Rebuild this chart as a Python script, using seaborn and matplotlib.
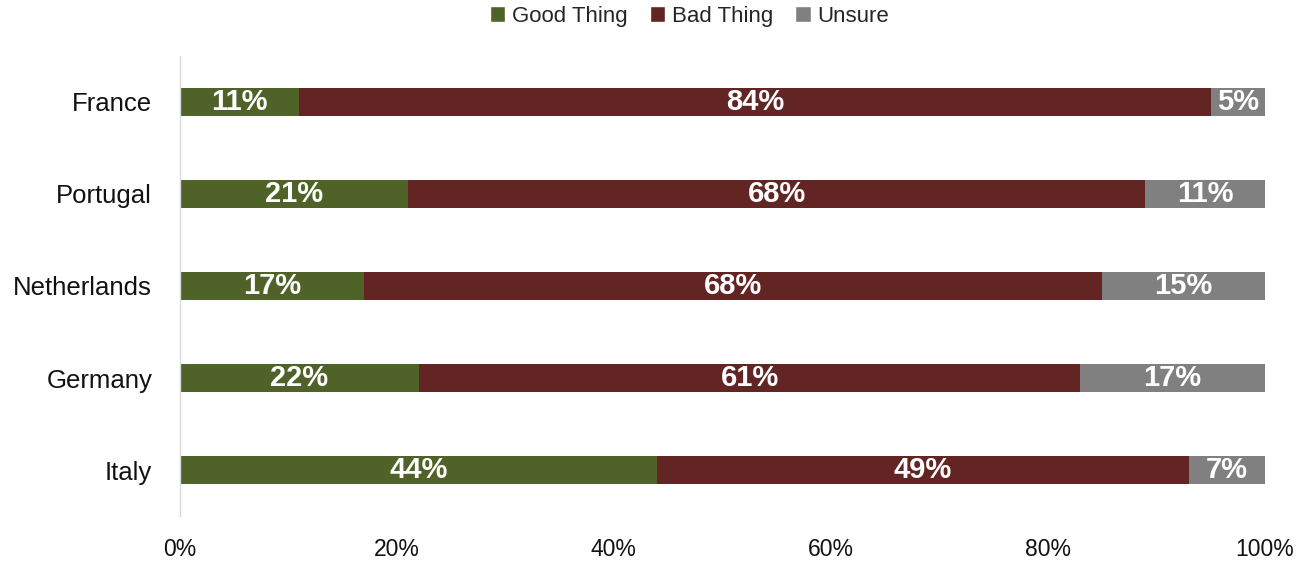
import numpy as np
import pandas as pd
import seaborn as sns
import matplotlib.pyplot as plt
from matplotlib.patches import Patch

countries = ["France", "Portugal", "Netherlands", "Germany", "Italy"]
good = [11, 21, 17, 22, 44]
bad = [84, 68, 68, 61, 49]
unsure = [5, 11, 15, 17, 7]

colors = {"Good Thing": "#4f6228", "Bad Thing": "#632523", "Unsure": "#808080"}

df = pd.DataFrame({"country": countries, "good": good, "bad": bad, "unsure": unsure})
df["good_bad"] = df["good"] + df["bad"]
df["total"] = df["good_bad"] + df["unsure"]

sns.set_theme(style="white")
plt.rcParams["font.family"] = ["Liberation Sans", "DejaVu Sans"]

fig = plt.figure(figsize=(12.96, 5.61), dpi=100)
ax = fig.add_axes([0.1389, 0.0802, 0.837, 0.82])

# stacked bars: draw cumulative totals back to front
for col, key in [("total", "Unsure"), ("good_bad", "Bad Thing"), ("good", "Good Thing")]:
    sns.barplot(data=df, y="country", x=col, orient="h", color=colors[key],
                width=0.3, saturation=1, linewidth=0, ax=ax)

# value labels in the middle of each segment
for i, row in df.iterrows():
    starts = [0, row["good"], row["good_bad"]]
    vals = [row["good"], row["bad"], row["unsure"]]
    for s, v in zip(starts, vals):
        ax.text(s + v / 2, i, f"{v}%", ha="center", va="center", color="white",
                fontsize=21, fontweight="bold")

ax.set_xlim(0, 100)
ax.set_ylim(4.5, -0.5)
ax.set_xticks(np.arange(0, 101, 20))
ax.set_xticklabels([f"{t}%" for t in range(0, 101, 20)])
ax.set_xlabel("")
ax.set_ylabel("")
ax.tick_params(axis="x", length=0, labelsize=16.5, colors="#111111", pad=16)
ax.tick_params(axis="y", length=0, labelsize=18.5, colors="#111111", pad=20)

for side in ["top", "right", "bottom"]:
    ax.spines[side].set_visible(False)
ax.spines["left"].set_color("#d9d9d9")
ax.spines["left"].set_linewidth(1)

handles = [Patch(facecolor=c, label=k) for k, c in colors.items()]
fig.legend(handles=handles, loc="upper center", bbox_to_anchor=(0.532, 1.025), ncol=3,
           frameon=False, fontsize=16, handlelength=0.7, handleheight=0.7,
           handletextpad=0.3, columnspacing=1.0)

fig.savefig("out.png", dpi=100)
